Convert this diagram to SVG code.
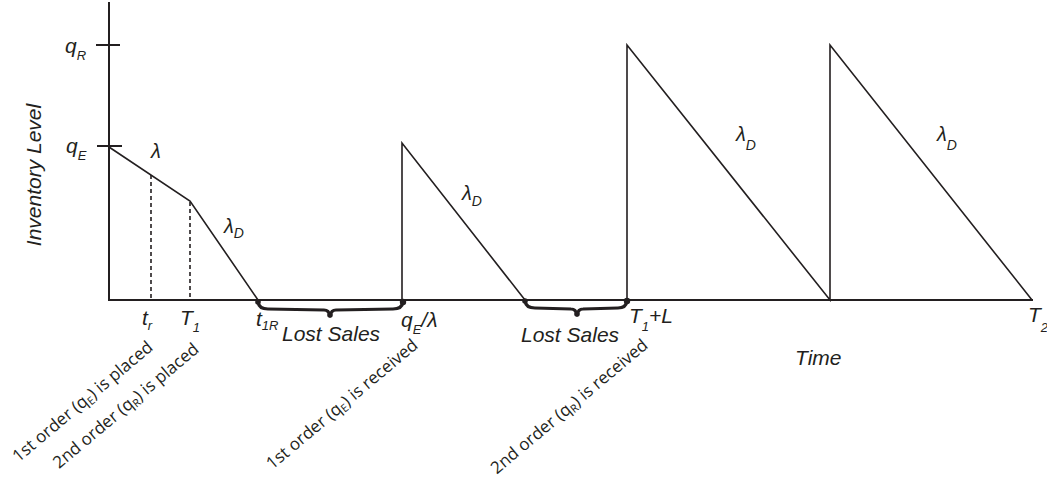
<svg xmlns="http://www.w3.org/2000/svg" width="1047" height="478" viewBox="0 0 1047 478">
<style>
.ax{stroke:#231f20;stroke-width:2;fill:none}
.ln{stroke:#231f20;stroke-width:1.6;fill:none}
.dash{stroke:#231f20;stroke-width:1.6;stroke-dasharray:4,3;fill:none}
.br{stroke:#231f20;stroke-width:3.2;fill:none;stroke-linecap:round;stroke-linejoin:round}
.m{font-family:"Liberation Sans",Arial,sans-serif;font-style:italic;font-size:21px;fill:#231f20}
.s{font-size:13px}
.g{font-family:"Liberation Sans",Arial,sans-serif;font-style:italic;font-size:20px;fill:#231f20}
.gs{font-size:14px}
.r{font-family:"Open Sans","Liberation Sans",sans-serif;font-size:17px;fill:#231f20}
.rs{font-size:11px}
</style>
<g id="axes">
<path class="ax" d="M109,2 V300 H1033"/>
<path class="ax" d="M96,45 H120 M97,146 H122"/>
</g>
<g id="connectors">
<path class="ln" d="M109,147 L190,201 L258,300"/>
<path class="dash" d="M151,175 V300 M190,202 V300"/>
<path class="ln" d="M402,300 V143 L525,300"/>
<path class="ln" d="M627,300 V45 L830,300 V45 L1032,300"/>
</g>
<g id="brace1">
<path class="br" d="M258,302 Q259,309 268,309 L324,310 Q329,310 330,316 Q331,310 336,310 L393,309 Q402,309 403,302"/>
<circle cx="258" cy="302" r="2.8" fill="#231f20"/><circle cx="403" cy="302" r="3.2" fill="#231f20"/><circle cx="330" cy="315" r="2.8" fill="#231f20"/>
</g>
<g id="brace2">
<path class="br" d="M525,301 Q526,308 535,308 L571,309 Q576,309 577,315 Q578,309 583,309 L618,308 Q626,308 627,301"/>
<circle cx="525" cy="301" r="2.8" fill="#231f20"/><circle cx="627" cy="301" r="3.2" fill="#231f20"/><circle cx="577" cy="314" r="2.8" fill="#231f20"/>
</g>
<g id="labels-y">
<text class="m" x="65" y="53">q<tspan class="s" dy="7">R</tspan></text>
<text class="m" x="66" y="153">q<tspan class="s" dy="7">E</tspan></text>
<text class="m" transform="translate(41,175) rotate(-90)" text-anchor="middle">Inventory Level</text>
</g>
<g id="labels-rates">
<text class="g" x="151" y="158">λ</text>
<text class="g" x="224" y="233">λ<tspan class="gs" dy="5">D</tspan></text>
<text class="g" x="462" y="200">λ<tspan class="gs" dy="6">D</tspan></text>
<text class="g" x="736" y="141">λ<tspan class="gs" dy="9">D</tspan></text>
<text class="g" x="937" y="141">λ<tspan class="gs" dy="9">D</tspan></text>
</g>
<g id="labels-x">
<text class="m" x="142" y="325">t<tspan class="s" dy="5">r</tspan></text>
<text class="m" x="180" y="325">T<tspan class="s" dy="7">1</tspan></text>
<text class="m" x="256" y="326">t<tspan class="s" dy="4">1R</tspan></text>
<text class="m" x="282" y="341">Lost Sales</text>
<text class="m" x="401" y="327">q<tspan class="s" dy="7">E</tspan><tspan dy="-7">/λ</tspan></text>
<text class="m" x="521" y="342">Lost Sales</text>
<text class="m" x="629" y="323">T<tspan class="s" dy="8">1</tspan><tspan dy="-8">+L</tspan></text>
<text class="m" x="795" y="365">Time</text>
<text class="m" x="1028" y="322">T<tspan class="s" dy="10">2</tspan></text>
</g>
<g id="labels-events">
<text class="r" text-anchor="end" transform="translate(154,349) rotate(-40)">1st order (q<tspan class="rs" dy="3">E</tspan><tspan dy="-3">) is placed</tspan></text>
<text class="r" text-anchor="end" transform="translate(200,351) rotate(-40)">2nd order (q<tspan class="rs" dy="3">R</tspan><tspan dy="-3">) is placed</tspan></text>
<text class="r" text-anchor="end" transform="translate(419,347) rotate(-40)">1st order (q<tspan class="rs" dy="3">E</tspan><tspan dy="-3">) is received</tspan></text>
<text class="r" text-anchor="end" transform="translate(649,347) rotate(-40)">2nd order (q<tspan class="rs" dy="3">R</tspan><tspan dy="-3">) is received</tspan></text>
</g>
</svg>
